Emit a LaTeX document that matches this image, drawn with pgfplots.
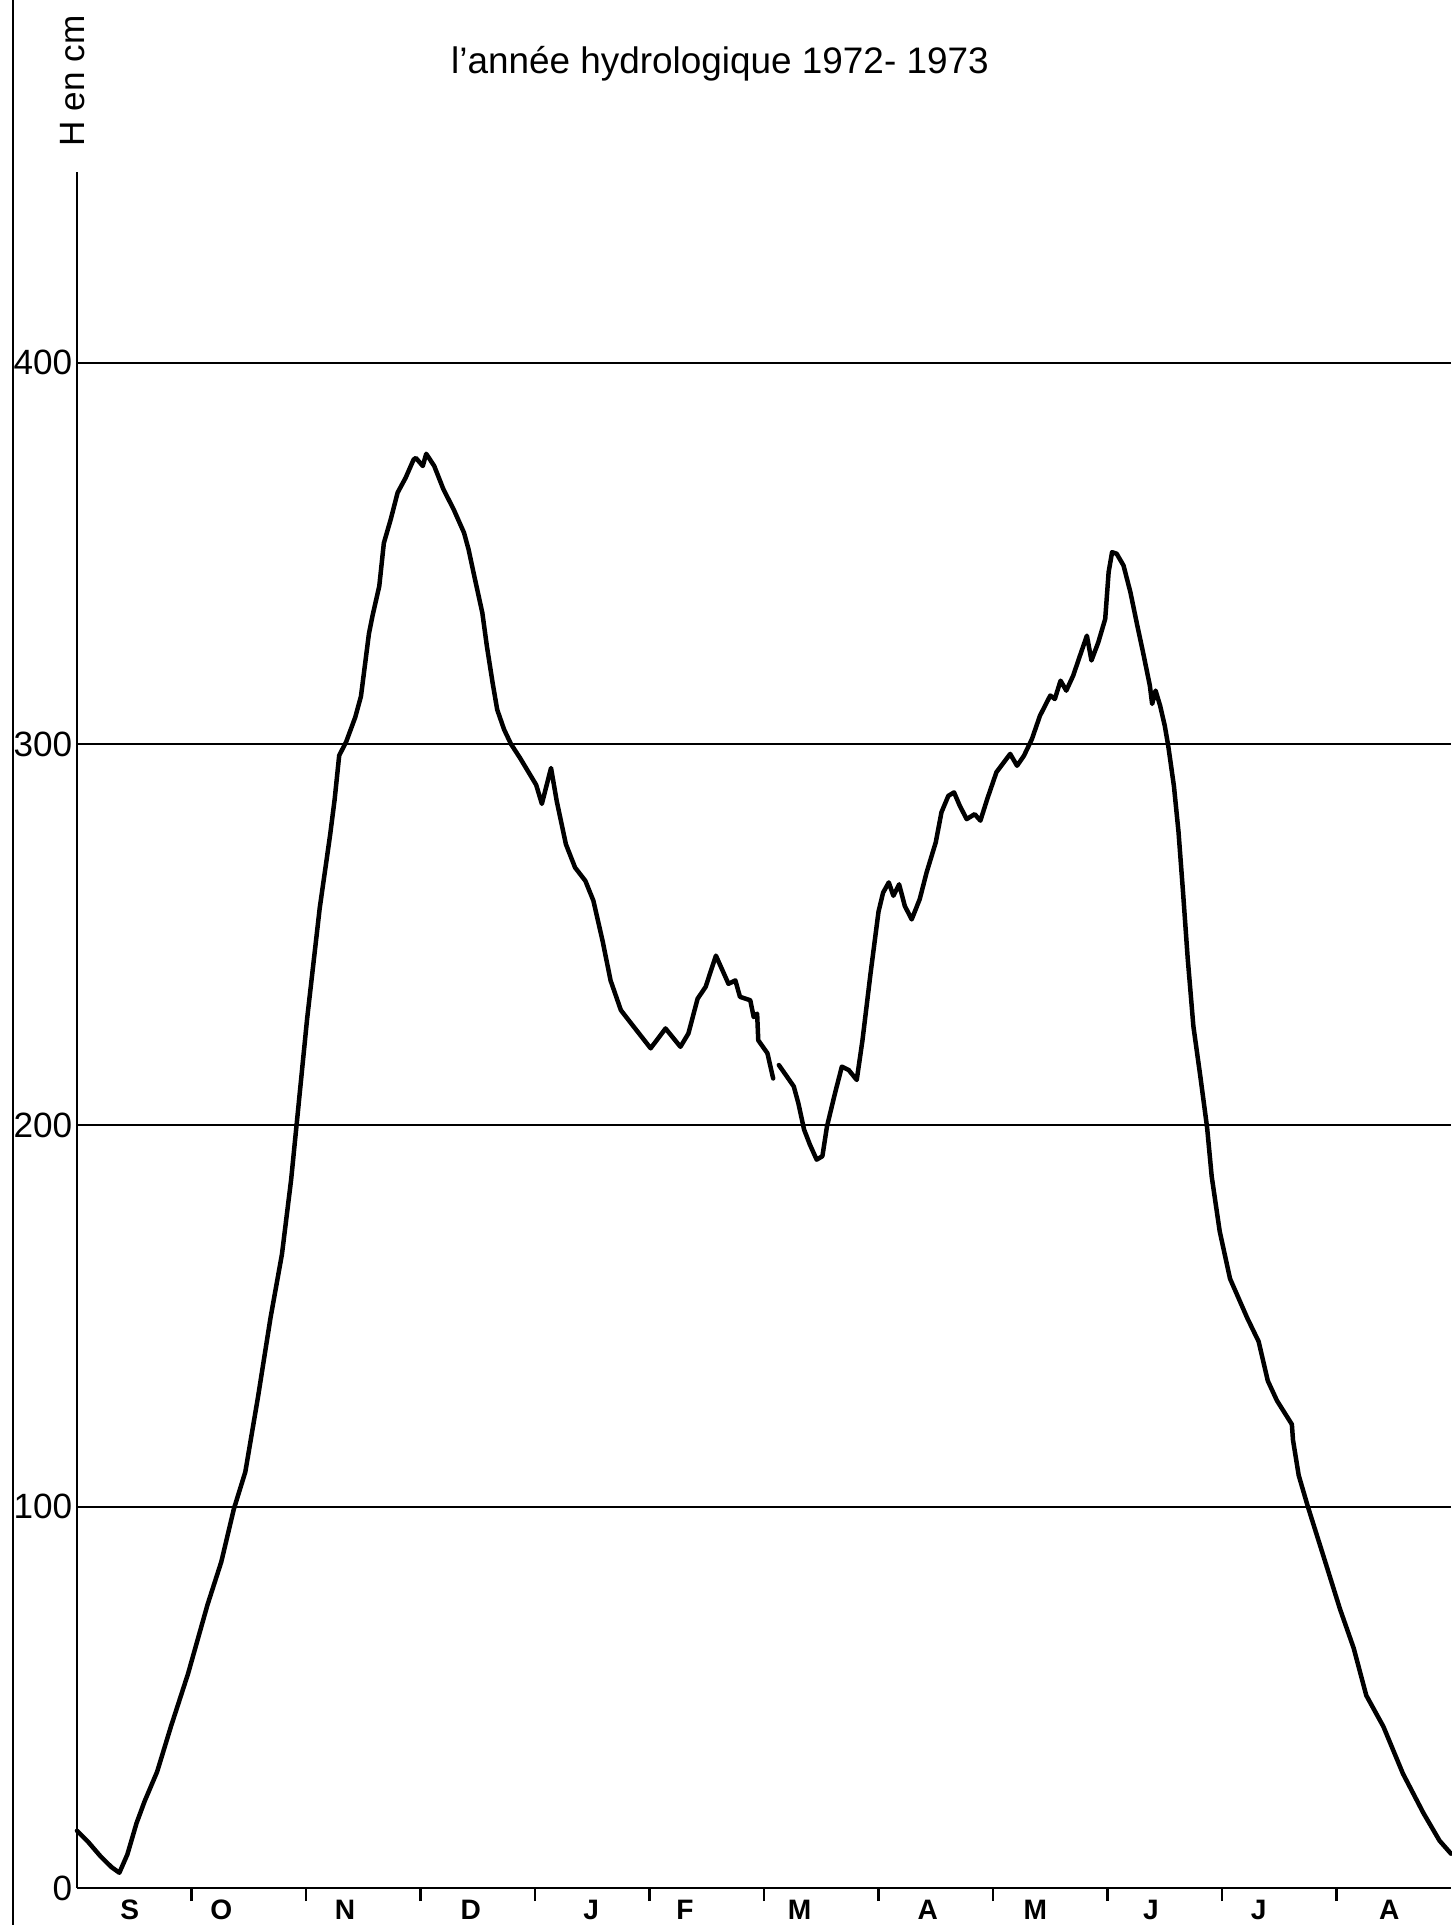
\documentclass[border=0pt]{standalone}
\usepackage{fontspec}
\setmainfont{Liberation Sans}
\usepackage{pgfplots}
\pgfplotsset{compat=1.18}
\begin{document}
\begin{tikzpicture}
\useasboundingbox (-7.7mm,-3.7mm) rectangle (137.4mm,188.8mm);
\begin{axis}[
  at={(0,0)}, anchor=south west,
  scale only axis, width=137.4mm, height=171.6mm,
  xmin=0, xmax=12, ymin=0, ymax=450,
  axis x line*=bottom, axis y line*=left,
  axis line style={-, line width=0.25mm, black},
  clip=false,
  ytick={0,100,200,300,400},
  ymajorgrids, grid style={line width=0.2mm, black},
  /pgf/number format/assume math mode=true,
  yticklabel style={font=\fontsize{10}{11}\selectfont, anchor=east, inner sep=0pt, xshift=-0.4mm},
  xtick={0.46,1.26,2.34,3.44,4.49,5.31,6.31,7.43,8.37,9.38,10.32,11.46},
  xticklabels={S,O,N,D,J,F,M,A,M,J,J,A},
  xticklabel style={font=\bfseries\fontsize{8}{9}\selectfont, anchor=north, inner sep=0pt, yshift=-1.1mm},
  minor xtick={1,2,3,4,5,6,7,8,9,10,11},
  major tick length=0pt, minor tick length=1.3mm, tick align=outside,
  tick style={black, line width=0.25mm},
]
\addplot[black, line width=0.45mm, line join=round, line cap=round] table {
0.00 15
0.10 12
0.20 8.5
0.30 5.5
0.37 4
0.44 8.8
0.52 17
0.59 22.7
0.70 30.5
0.82 42.3
0.97 56.2
1.14 74.3
1.26 85.5
1.37 99.4
1.47 109.1
1.58 128.6
1.69 149.5
1.79 166.2
1.87 185.7
1.93 203.8
2.01 228
2.12 257
2.21 276
2.25 285.4
2.29 297
2.35 300.5
2.43 307
2.48 312.5
2.55 329
2.58 333.5
2.64 341.4
2.68 352.7
2.74 358.9
2.80 365.9
2.87 369.8
2.94 374.6
2.96 375
3.02 372.9
3.05 376.1
3.12 372.9
3.20 366.8
3.29 361.5
3.38 355.4
3.42 351
3.47 344
3.54 334.4
3.58 325.6
3.63 316
3.67 309
3.73 303.8
3.79 300
3.87 296.3
4.01 289.3
4.06 284.3
4.14 293.7
4.19 285
4.27 273.7
4.35 267.6
4.44 264.1
4.51 258.9
4.59 248.4
4.66 238
4.75 230.2
4.83 227.1
5.01 220.2
5.14 225.4
5.27 220.6
5.34 224.1
5.42 233.2
5.49 236.3
5.58 244.5
5.69 237.1
5.75 238
5.79 233.7
5.88 232.8
5.91 228.4
5.94 229.3
5.95 222.3
6.03 218.9
6.08 212.3
};
\addplot[black, line width=0.45mm, line join=round, line cap=round] table {
6.13 215.8
6.20 212.8
6.26 210.2
6.30 205.8
6.35 198.9
6.40 195
6.46 191
6.51 191.9
6.55 199.7
6.62 208.4
6.68 215.4
6.74 214.5
6.81 211.9
6.86 222.3
6.93 239.7
7.00 256
7.04 261
7.09 263.7
7.13 260.2
7.18 263.2
7.23 257.5
7.29 254
7.36 259.3
7.42 266.3
7.50 274.2
7.55 282.1
7.61 286.4
7.66 287.3
7.71 283.8
7.77 280.3
7.84 281.6
7.89 279.9
7.95 285.6
8.03 292.6
8.15 297.4
8.21 294.3
8.27 296.9
8.34 301.3
8.41 307.4
8.50 312.7
8.54 311.8
8.59 316.6
8.64 314
8.70 317.9
8.76 323.2
8.82 328.4
8.86 321.9
8.92 326.7
8.98 332.8
9.01 345.1
9.04 350.3
9.08 349.9
9.14 346.8
9.20 339.8
9.26 331.1
9.31 324.1
9.37 315.3
9.39 310.5
9.42 314
9.46 310
9.50 304.8
9.53 299.6
9.58 289
9.62 277
9.66 261
9.70 244
9.75 226
9.81 213
9.87 199.4
9.91 186.6
9.98 172.2
10.07 159.8
10.22 149.5
10.32 143.3
10.40 133
10.48 127.8
10.61 121.6
10.62 117.5
10.67 108.2
10.75 100
10.88 87.6
11.03 73.2
11.15 62.9
11.26 50.5
11.41 42.3
11.58 30
11.76 19.6
11.90 12.4
12.00 9
};
\end{axis}
\node[anchor=base, font=\fontsize{10.5}{12}\selectfont, inner sep=0pt] at (64.3mm,181.4mm) {l’année hydrologique 1972- 1973};
\node[rotate=90, anchor=base, font=\fontsize{10}{12}\selectfont, inner sep=0pt] at (0.8mm,180.7mm) {H en cm};
\draw[line width=0.25mm] (-6.4mm,-3.7mm) -- (-6.4mm,188.8mm);
\end{tikzpicture}
\end{document}
